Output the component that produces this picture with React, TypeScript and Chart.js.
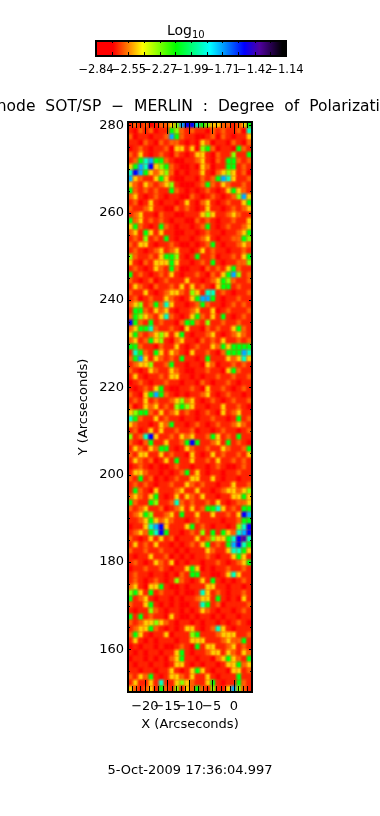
import React, { useEffect, useRef } from "react";
import { Chart, registerables } from "chart.js";

Chart.register(...registerables);

const titleText = "Hinode SOT/SP \u2212 MERLIN : Degree of Polarization";
const dateText = "5-Oct-2009 17:36:04.997";
const xAxisTitle = "X (Arcseconds)";
const yAxisTitle = "Y (Arcseconds)";
const fontFamily = "'DejaVu Sans', sans-serif";

const xRange = [-23.8, 4.05];
const yRange = [150.2, 280.8];
const xMajorTicks = [-20, -15, -10, -5, 0];
const xMinorTicks = [-23, -22, -21, -19, -18, -17, -16, -14, -13, -12, -11, -9, -8, -7, -6, -4, -3, -2, -1, 1, 2, 3, 4];
const yMajorTicks = [160, 180, 200, 220, 240, 260, 280];
const yMinorTicks = [155, 165, 170, 175, 185, 190, 195, 205, 210, 215, 225, 230, 235, 245, 250, 255, 265, 270, 275];

const barTicks = [-2.84, -2.55, -2.27, -1.99, -1.71, -1.42, -1.14];
const barMinorTicks = [-2.7, -2.41, -2.13, -1.85, -1.57, -1.28];

// log10 degree of polarization represented by each digit of the rows below
const levelValues = [-2.78, -2.65, -2.585, -2.475, -2.28, -2.11, -1.9, -1.72, -1.51, -1.38];

// colour table as fraction of the bar
const colorFractions = [0, 0.09, 0.17, 0.245, 0.42, 0.6, 0.78, 0.86, 0.98, 1];
const colorTable = [
  [255, 0, 0], [255, 0, 0], [255, 128, 0], [255, 255, 0], [0, 255, 0],
  [0, 255, 255], [0, 0, 255], [80, 0, 160], [0, 0, 0], [0, 0, 0],
];

// Heat map rows from the top of the plot (Y = 280) to the bottom (Y = 150)
const rowsTop = [
  "121201223478865433221235",
  "102120115421211021211206",
  "201101127521100120210113",
  "110210212210103201102102",
  "012101120331304520110521",
  "213101210210133102114115",
  "125675521001123102155212",
  "357683452100103201155121",
  "687532342010113102343120",
  "732113531001102125763112",
  "321321234100012521321121",
  "521212115210101210135321",
  "231012101100210121012473",
  "120131011013102310121135",
  "211231100212101311012123",
  "123110211001113431123211",
  "523121210110021210112113",
  "352101521011012510121123",
  "231531311001101211011235",
];
const rowsUpper = [
  "121412151011012310112254",
  "213310112100101251011232",
  "121012312311013121101121",
  "421121355410151120112135",
  "310213335311012151011224",
  "121013215200110212135211",
  "512101213101121021357412",
  "210120121113110123542112",
  "132102112131312103551211",
  "211310123321431661210112",
  "120121132101357751011211",
  "234125263110125211012121",
  "155213231011231130121112",
  "254321362101352131510121",
  "852151211025521411211211",
  "235562112103110212113521",
  "352123431351011231012321",
  "231253410231102121311212",
  "552110211310121132535555",
];
const rowsMiddle = [
  "165215313210311210255576",
  "257313212151101511132363",
  "123341125110110320112121",
  "210132113210011211035211",
  "131011213311010112112112",
  "012101121101102101121011",
  "101213510011210311210121",
  "210357521010112310121101",
  "121312112342310121012112",
  "201323121454311011311210",
  "345521312312101210312311",
  "652113121101101121101512",
  "321101325110121012112321",
  "120131311211201101211012",
  "412683112132311253121511",
  "210251131125851123151210",
  "132132551013211211321125",
  "213311312110310131211213",
  "132120131511311213112121",
];
const rowsLower = [
  "012101001211011012100121",
  "133211010125131011011211",
  "215120101211331131011011",
  "121210112113212110113112",
  "152103111231131101233234",
  "232135101313213110113353",
  "521154112621211213101223",
  "212311201231312556312155",
  "123541123151131131121387",
  "112353232110121111011255",
  "011367831113512101101468",
  "123256851101214151532678",
  "210131312011131243356896",
  "131213110101213512157865",
  "211211211010111321136653",
  "101131120101011210113531",
  "121013213010110112101235",
  "011211210113530101121121",
  "121101101021551100136311",
];
const rowsBottom = [
  "121012101421013151010121",
  "231033510010111331101101",
  "453151211010016312101121",
  "512310110101123315101031",
  "211351010100116512011112",
  "101142101101013210110121",
  "515121103100101101011011",
  "212334321011010110101210",
  "123352101013310126310111",
  "253101130111451112333112",
  "131010111011333111232251",
  "010110100121051331123121",
  "101011011351011233132132",
  "011010102351101102353215",
  "101101101331010110133523",
  "110110113101353101103312",
  "213251013321311310111511",
  "131131611343211351011521",
  "321231521413252141137421",
];

const allRows = [...rowsTop, ...rowsUpper, ...rowsMiddle, ...rowsLower, ...rowsBottom];

function colorAt(t: number): number[] {
  for (let i = 1; i < colorFractions.length; i++) {
    if (t <= colorFractions[i]) {
      const a = colorFractions[i - 1];
      const b = colorFractions[i];
      const f = b === a ? 0 : (t - a) / (b - a);
      return colorTable[i].map((c, k) => Math.round(colorTable[i - 1][k] + (c - colorTable[i - 1][k]) * f));
    }
  }
  return colorTable[colorTable.length - 1];
}
function cssColor(c: number[]) {
  return `rgb(${c[0]},${c[1]},${c[2]})`;
}
function valueColor(v: number) {
  const lo = barTicks[0];
  const hi = barTicks[barTicks.length - 1];
  return cssColor(colorAt((v - lo) / (hi - lo)));
}

function cellPoints() {
  const nRows = allRows.length;
  const nCols = allRows[0].length;
  const dx = (xRange[1] - xRange[0]) / nCols;
  const dy = (yRange[1] - yRange[0]) / nRows;
  const pts: { x: number; y: number; v: number }[] = [];
  allRows.forEach((row, r) => {
    row.split("").forEach((ch, c) => {
      pts.push({
        x: xRange[0] + (c + 0.5) * dx,
        y: yRange[1] - (r + 0.5) * dy,
        v: levelValues[Number(ch)],
      });
    });
  });
  return pts;
}

// Cell sprite with a feathered rim, so neighbouring cells blend together
function makeSprite(color: string, w: number, h: number) {
  const c = document.createElement("canvas");
  c.width = w;
  c.height = h;
  const g = c.getContext("2d")!;
  const [r, gg, b] = color.slice(4, -1).split(",").map(Number);
  const img = g.createImageData(w, h);
  for (let j = 0; j < h; j++) {
    for (let i = 0; i < w; i++) {
      const ex = Math.min(i + 0.5, w - i - 0.5) / 3.5;
      const ey = Math.min(j + 0.5, h - j - 0.5) / 3.5;
      const a = Math.min(1, ex) * Math.min(1, ey);
      const k = (j * w + i) * 4;
      img.data[k] = r;
      img.data[k + 1] = gg;
      img.data[k + 2] = b;
      img.data[k + 3] = Math.round(255 * a);
    }
  }
  g.putImageData(img, 0, 0);
  return c;
}

const tickFrame = {
  id: "tickFrame",
  beforeDatasetsDraw(chart: any) {
    const { ctx, chartArea: a } = chart;
    ctx.save();
    ctx.fillStyle = valueColor(levelValues[1]);
    ctx.fillRect(a.left, a.top, a.right - a.left, a.bottom - a.top);
    ctx.restore();
  },
  afterDatasetsDraw(chart: any) {
    const { ctx, chartArea: a, scales } = chart;
    const x = scales.x;
    const y = scales.y;
    ctx.save();
    ctx.strokeStyle = "#000";
    ctx.lineWidth = 1;
    const vTick = (v: number, len: number) => {
      const p = Math.round(x.getPixelForValue(v)) + 0.5;
      ctx.beginPath();
      ctx.moveTo(p, a.bottom);
      ctx.lineTo(p, a.bottom - len);
      ctx.moveTo(p, a.top);
      ctx.lineTo(p, a.top + len);
      ctx.stroke();
    };
    const hTick = (v: number, len: number) => {
      const p = Math.round(y.getPixelForValue(v)) + 0.5;
      ctx.beginPath();
      ctx.moveTo(a.left, p);
      ctx.lineTo(a.left + len, p);
      ctx.moveTo(a.right, p);
      ctx.lineTo(a.right - len, p);
      ctx.stroke();
    };
    xMajorTicks.forEach((v) => vTick(v, 12));
    xMinorTicks.forEach((v) => vTick(v, 6));
    yMajorTicks.forEach((v) => hTick(v, 3));
    yMinorTicks.forEach((v) => hTick(v, 2));
    ctx.lineWidth = 2;
    ctx.strokeRect(a.left, a.top, a.right - a.left, a.bottom - a.top);

    // wide-set plot title, running off both edges of the page
    ctx.fillStyle = "#000";
    ctx.textAlign = "center";
    ctx.textBaseline = "middle";
    ctx.font = `15.5px ${fontFamily}`;
    (ctx as any).wordSpacing = "5px";
    ctx.fillText(titleText, 190, 107);
    ctx.restore();
  },
};

const barFrame = {
  id: "barFrame",
  afterDatasetsDraw(chart: any) {
    const { ctx, chartArea: a, scales } = chart;
    ctx.save();
    ctx.strokeStyle = "#000";
    ctx.lineWidth = 1;
    [...barTicks, ...barMinorTicks].forEach((v) => {
      const p = Math.round(scales.x.getPixelForValue(v)) + 0.5;
      ctx.beginPath();
      ctx.moveTo(p, a.top);
      ctx.lineTo(p, a.top + 2);
      ctx.moveTo(p, a.bottom);
      ctx.lineTo(p, a.bottom - 4);
      ctx.stroke();
    });
    ctx.lineWidth = 2;
    ctx.strokeRect(a.left, a.top, a.right - a.left, a.bottom - a.top);
    ctx.fillStyle = "#000";
    ctx.textBaseline = "alphabetic";
    ctx.textAlign = "left";
    ctx.font = `14px ${fontFamily}`;
    ctx.fillText("Log", 167, 35);
    ctx.font = `10px ${fontFamily}`;
    ctx.fillText("10", 192, 38);
    ctx.restore();
  },
};

export default function App() {
  const barRef = useRef<HTMLCanvasElement>(null);
  const mainRef = useRef<HTMLCanvasElement>(null);

  useEffect(() => {
    const spriteCache: Record<string, HTMLCanvasElement> = {};
    const sprite = (v: number) => {
      const color = valueColor(v);
      if (!spriteCache[color]) spriteCache[color] = makeSprite(color, 9, 10);
      return spriteCache[color];
    };

    const main = new Chart(mainRef.current!, {
      type: "scatter",
      data: {
        datasets: [
          {
            label: "Log10 degree of polarization",
            data: cellPoints(),
            pointStyle: (c: any) => sprite(c.raw.v),
            pointRadius: 4,
            pointHoverRadius: 4,
            showLine: false,
          } as any,
        ],
      },
      options: {
        animation: false,
        responsive: false,
        devicePixelRatio: 1,
        layout: { padding: { top: 122 } },
        plugins: {
          legend: { display: false },
          tooltip: { enabled: false },
          title: { display: false },
          subtitle: {
            display: true,
            position: "bottom",
            text: dateText,
            color: "#000",
            font: { family: fontFamily, size: 13, weight: "normal", lineHeight: 1.2 },
            padding: { top: 31, bottom: 37.4 },
          },
        },
        scales: {
          x: {
            type: "linear",
            min: xRange[0],
            max: xRange[1],
            afterBuildTicks: (s: any) => {
              s.ticks = xMajorTicks.map((value) => ({ value }));
            },
            afterFit: (s: any) => {
              s.height = 40;
            },
            grid: { display: false, drawTicks: false },
            border: { display: false },
            ticks: {
              color: "#000",
              autoSkip: false,
              maxRotation: 0,
              padding: 7,
              font: { family: fontFamily, size: 13 },
              callback: (v: any) => String(v).replace("-", "\u2212"),
            },
            title: {
              display: true,
              text: xAxisTitle,
              color: "#000",
              font: { family: fontFamily, size: 13 },
              padding: { top: 0, bottom: 0 },
            },
          },
          y: {
            type: "linear",
            min: yRange[0],
            max: yRange[1],
            afterBuildTicks: (s: any) => {
              s.ticks = yMajorTicks.map((value) => ({ value }));
            },
            afterFit: (s: any) => {
              s.width = 128;
            },
            grid: { display: false, drawTicks: false },
            border: { display: false },
            ticks: {
              color: "#000",
              autoSkip: false,
              padding: 4,
              font: { family: fontFamily, size: 13 },
              callback: (v: any) => String(v),
            },
            title: {
              display: true,
              text: yAxisTitle,
              color: "#000",
              font: { family: fontFamily, size: 13 },
              padding: { top: 76, bottom: 0 },
            },
          },
          yRight: {
            type: "linear",
            position: "right",
            min: yRange[0],
            max: yRange[1],
            afterFit: (s: any) => {
              s.width = 128;
            },
            grid: { display: false, drawTicks: false },
            border: { display: false },
            ticks: { display: false },
          },
        },
      },
      plugins: [tickFrame],
    } as any);

    const bar = new Chart(barRef.current!, {
      type: "bar",
      data: {
        labels: ["Log10"],
        datasets: [
          {
            label: "Colour bar",
            data: [[barTicks[0], barTicks[barTicks.length - 1]]],
            barPercentage: 1,
            categoryPercentage: 1,
            backgroundColor: (c: any) => {
              const a = c.chart.chartArea;
              if (!a) return "#f00";
              const g = c.chart.ctx.createLinearGradient(a.left, 0, a.right, 0);
              colorFractions.forEach((f, i) => g.addColorStop(f, cssColor(colorTable[i])));
              return g;
            },
          } as any,
        ],
      },
      options: {
        indexAxis: "y",
        animation: false,
        responsive: false,
        devicePixelRatio: 1,
        layout: { padding: { left: 96, right: 94, top: 41, bottom: 0 } },
        plugins: { legend: { display: false }, tooltip: { enabled: false } },
        scales: {
          y: { display: false },
          x: {
            type: "linear",
            min: barTicks[0],
            max: barTicks[barTicks.length - 1],
            afterBuildTicks: (s: any) => {
              s.ticks = barTicks.map((value) => ({ value }));
            },
            afterFit: (s: any) => {
              s.height = 24;
            },
            grid: { display: false, drawTicks: false },
            border: { display: false },
            ticks: {
              color: "#000",
              autoSkip: false,
              maxRotation: 0,
              padding: 7,
              font: { family: fontFamily, size: 11.5 },
              callback: (v: any) => Number(v).toFixed(2).replace("-", "\u2212"),
            },
          },
        },
      },
      plugins: [barFrame],
    } as any);

    return () => {
      main.destroy();
      bar.destroy();
    };
  }, []);

  return (
    <div style={{ position: "absolute", left: 0, top: 0, width: 380, height: 816, overflow: "hidden", background: "#fff" }}>
      <canvas ref={mainRef} width={380} height={816} style={{ position: "absolute", left: 0, top: 0, display: "block" }} />
      <canvas ref={barRef} width={380} height={80} style={{ position: "absolute", left: 0, top: 0, display: "block" }} />
    </div>
  );
}
